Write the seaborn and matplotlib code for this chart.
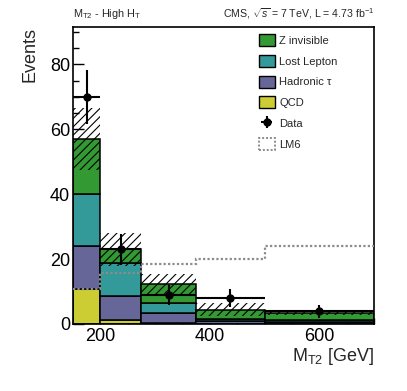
import numpy as np
import pandas as pd
import matplotlib
matplotlib.use("Agg")
import matplotlib.pyplot as plt
from matplotlib.patches import Patch
from matplotlib.ticker import MultipleLocator
import seaborn as sns

# bin edges in GeV and per-bin yields
edges = [150, 200, 275, 375, 500, 700]
processes = ["Z invisible", "Lost Lepton", "Hadronic τ", "QCD"]
z_invisible = [16.8, 4.1, 5.9, 2.8, 2.3]
lost_lepton = [16.2, 10.3, 3.1, 0.7, 0.6]
hadronic_tau = [13.3, 7.4, 3.1, 0.9, 0.6]
qcd = [10.7, 1.2, 0.2, 0.0, 0.0]
bkg_uncert = [9.5, 5.0, 3.0, 2.0, 0.8]
data_counts = [70, 23, 9, 8, 4]
lm6 = [10.7, 15.7, 18.4, 20.0, 24.0]

colors = {
    "Z invisible": "#339933",
    "Lost Lepton": "#339999",
    "Hadronic τ": "#666699",
    "QCD": "#cccc33",
}

sns.set_style("white")
plt.rcParams["font.family"] = ["Liberation Sans", "DejaVu Sans"]
plt.rcParams["mathtext.fontset"] = "custom"
plt.rcParams["mathtext.rm"] = "Liberation Sans"
plt.rcParams["mathtext.it"] = "Liberation Sans:italic"
plt.rcParams["hatch.linewidth"] = 0.8

edges_arr = np.array(edges)
centers = 0.5 * (edges_arr[1:] + edges_arr[:-1])
widths = np.diff(edges_arr)

yields = {"Z invisible": z_invisible, "Lost Lepton": lost_lepton,
          "Hadronic τ": hadronic_tau, "QCD": qcd}
df = pd.DataFrame([
    {"mt2": c, "events": v, "process": p}
    for p in processes for c, v in zip(centers, yields[p])
])

fig = plt.figure(figsize=(4.07, 3.91), dpi=100)
ax = fig.add_axes([73 / 407, 1 - 324 / 391, 301 / 407, 297 / 391])

sns.histplot(data=df, x="mt2", weights="events", hue="process",
             hue_order=processes, palette=colors, bins=edges,
             multiple="stack", element="bars", alpha=1,
             edgecolor="black", linewidth=1.1, legend=False, ax=ax)

# background uncertainty band
total = np.sum([yields[p] for p in processes], axis=0)
unc = np.array(bkg_uncert)
ax.bar(edges_arr[:-1], 2 * unc, width=widths, bottom=total - unc, align="edge",
       fill=False, hatch="////", linewidth=0, edgecolor="black", zorder=3)

# LM6 signal
lm6_style = dict(color="#8c8c8c", linestyle=(0, (1, 1)), linewidth=1.6)
ax.stairs(lm6, edges, baseline=None, zorder=4, **lm6_style)

# data
data_arr = np.array(data_counts)
data_err = ax.errorbar(centers, data_arr, yerr=np.sqrt(data_arr), xerr=widths / 2,
                       fmt="o", color="black", markersize=5, elinewidth=1.5,
                       capsize=0, zorder=5)

ax.set_xlim(150, 700)
ax.set_ylim(0, 91.5)
ax.yaxis.set_major_locator(MultipleLocator(20))
ax.yaxis.set_minor_locator(MultipleLocator(5))
ax.xaxis.set_major_locator(MultipleLocator(200))
ax.xaxis.set_minor_locator(MultipleLocator(50))
ax.tick_params(which="both", direction="in", colors="black", labelsize=13,
               bottom=True, left=True, top=False, right=False)
ax.tick_params(which="major", length=8, width=1)
ax.tick_params(which="minor", length=4, width=1)
ax.tick_params(axis="x", pad=3)
ax.tick_params(axis="y", pad=2)
for sp in ax.spines.values():
    sp.set_color("black")
    sp.set_linewidth(1.2)

ax.set_xlabel(r"M$_{\rm T2}$ [GeV]", fontsize=13, loc="right")
ax.xaxis.set_label_coords(1.0, -0.075)
ax.set_ylabel("Events", fontsize=13, loc="top")
ax.yaxis.set_label_coords(-0.115, 1.0)

ax.annotate(r"M$_{\rm T2}$ - High H$_{\rm T}$", xy=(0, 1), xycoords="axes fraction",
            xytext=(0, 4), textcoords="offset points", ha="left", va="bottom",
            fontsize=7.8)
ax.annotate(r"CMS, $\sqrt{s}$ = 7 TeV, L = 4.73 fb$^{-1}$", xy=(1, 1),
            xycoords="axes fraction", xytext=(0, 4), textcoords="offset points",
            ha="right", va="bottom", fontsize=7.6)

handles = [Patch(facecolor=colors[p], edgecolor="black", linewidth=1) for p in processes]
handles.append(data_err)
handles.append(Patch(facecolor="white", edgecolor="#8c8c8c", linestyle=(0, (1, 1)),
                     linewidth=1.4))
labels = processes + ["Data", "LM6"]
ax.legend(handles, labels, loc="upper left", bbox_to_anchor=(259 / 407, 1 - 34 / 391),
          bbox_transform=fig.transFigure, frameon=False, fontsize=8,
          handlelength=1.4, handleheight=1.3, handletextpad=0.4,
          labelspacing=0.78, borderpad=0, borderaxespad=0)

fig.savefig("out.png", dpi=100)
